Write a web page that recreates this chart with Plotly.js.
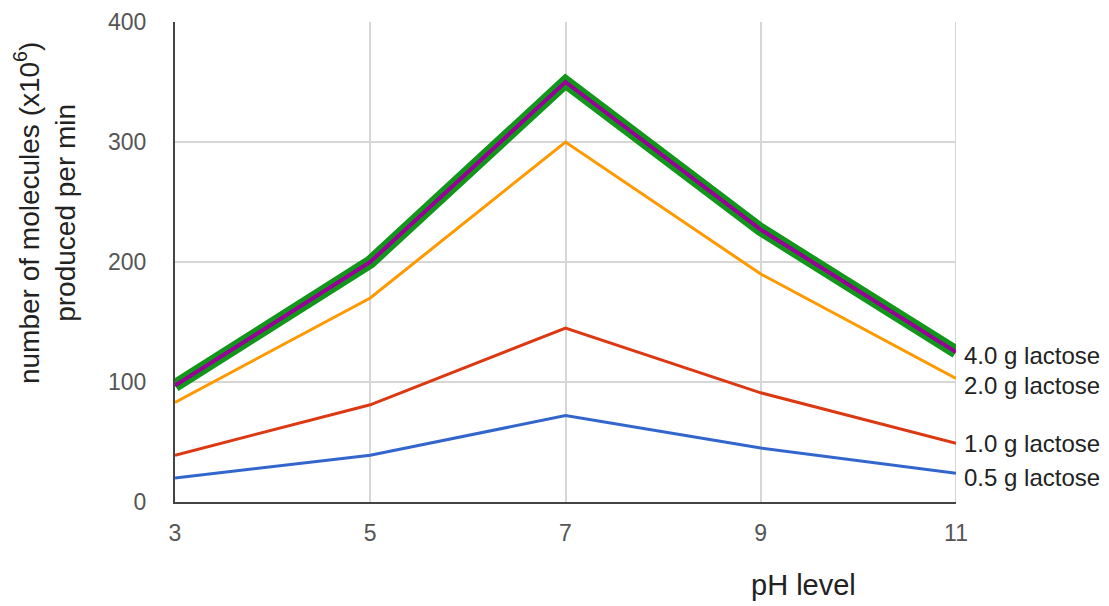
<!DOCTYPE html>
<html>
<head>
<meta charset="utf-8">
<script src="https://cdn.plot.ly/plotly-3.0.1.min.js"></script>
<style>html,body{margin:0;padding:0;background:#fff;}#chart{width:1109px;height:606px;}</style>
</head>
<body>
<div id="chart"></div>
<script>
// pH levels (x axis)
const phLevels = [3, 5, 7, 9, 11];
// number of molecules (x10^6) produced per min
const lactose05 = [20, 39, 72, 45, 24];
const lactose10 = [39, 81, 145, 91, 49];
const lactose20 = [83, 170, 300, 190, 103];
const lactose40 = [97, 200, 350, 227, 125];
const lactose40Inner = [97, 200, 350, 227, 125];
const seriesLabels = ["0.5 g lactose", "1.0 g lactose", "2.0 g lactose", "4.0 g lactose"];
const yTicks = [0, 100, 200, 300, 400];

const FONT = "Liberation Sans, Arial, sans-serif";

function line(y, color, width, name) {
  return {x: phLevels, y: y, type: "scatter", mode: "lines", name: name,
          line: {color: color, width: width}, hoverinfo: "x+y+name"};
}

const traces = [
  line(lactose05, "#3366cc", 3, seriesLabels[0]),
  line(lactose10, "#dc3912", 3, seriesLabels[1]),
  line(lactose20, "#ff9900", 3, seriesLabels[2]),
  line(lactose40, "#109618", 13, seriesLabels[3]),
  line(lactose40Inner, "#990099", 4, seriesLabels[3])
];

const lastVals = [lactose05, lactose10, lactose20, lactose40].map(a => a[a.length - 1]);
const labelShift = [-4, 0, -7, -3];
const annotations = seriesLabels.map((t, i) => ({
  x: phLevels[phLevels.length - 1], y: lastVals[i], xref: "x", yref: "y",
  text: t, showarrow: false, xanchor: "left", yanchor: "middle",
  xshift: 6, yshift: labelShift[i],
  font: {family: FONT, size: 24, color: "#222"}
}));
annotations.push({
  xref: "paper", yref: "paper", x: 0, y: 0.602, xshift: -130,
  text: "number of molecules (x10<sup>6</sup>)<br>produced per min",
  showarrow: false, textangle: -90, xanchor: "center", yanchor: "middle",
  font: {family: FONT, size: 28, color: "#222"}
});
annotations.push({
  xref: "paper", yref: "paper", x: 0.805, y: -0.173,
  text: "pH level", showarrow: false, xanchor: "center", yanchor: "middle",
  font: {family: FONT, size: 29, color: "#222"}
});

const layout = {
  width: 1109, height: 606,
  margin: {l: 175, r: 153, t: 22, b: 104},
  paper_bgcolor: "#fff", plot_bgcolor: "#fff",
  showlegend: false,
  xaxis: {
    range: [3, 11], tickvals: phLevels, ticktext: phLevels.map(String),
    showgrid: true, gridcolor: "#d6d6d6", gridwidth: 2,
    zeroline: false, showline: true, linecolor: "#444", linewidth: 2,
    ticks: "", ticklabelstandoff: 9,
    tickfont: {family: FONT, size: 23, color: "#555"}
  },
  yaxis: {
    range: [0, 400], tickvals: yTicks,
    showgrid: true, gridcolor: "#d6d6d6", gridwidth: 2,
    zeroline: false, showline: true, linecolor: "#444", linewidth: 2,
    ticks: "", ticklabelstandoff: 22,
    tickfont: {family: FONT, size: 23, color: "#555"}
  },
  shapes: [{type: "line", xref: "x", yref: "paper", x0: 11, x1: 11, y0: 0, y1: 1,
            line: {color: "#d6d6d6", width: 2}, layer: "below"}],
  annotations: annotations
};

Plotly.newPlot("chart", traces, layout, {displayModeBar: false, staticPlot: true});
</script>
</body>
</html>
